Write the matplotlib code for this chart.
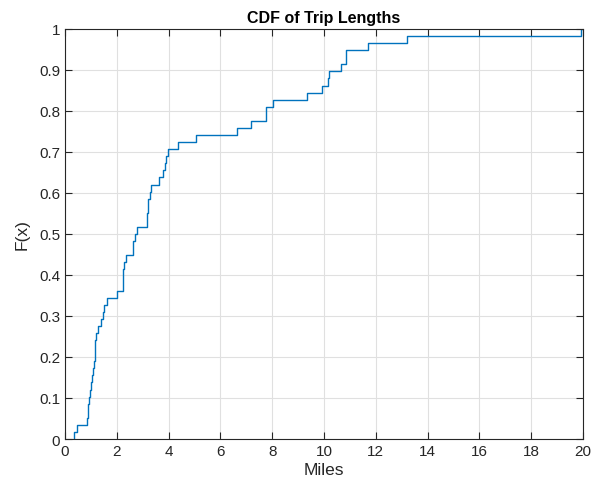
import numpy as np
import matplotlib
matplotlib.use("Agg")
import matplotlib.pyplot as plt

trip_miles = [0.35, 0.47, 0.85,
              0.9, 0.9, 0.94, 0.965, 1.0, 1.03, 1.07, 1.12, 1.15, 1.16, 1.17, 1.18,
              1.26, 1.39, 1.45, 1.52, 1.63, 2.0,
              2.23, 2.23, 2.23, 2.28, 2.36, 2.64, 2.64, 2.72, 2.79,
              3.15, 3.17, 3.2, 3.22, 3.28, 3.31, 3.64, 3.8, 3.86, 3.9, 3.99,
              4.37, 5.05, 6.65, 7.17, 7.75, 7.75, 8.04, 9.33, 9.91, 10.17, 10.2,
              10.64, 10.84, 10.84, 11.71, 13.19, 19.92]
x_ticks = list(range(0, 21, 2))
y_ticks = [0, 0.1, 0.2, 0.3, 0.4, 0.5, 0.6, 0.7, 0.8, 0.9, 1]
y_tick_labels = ["0", "0.1", "0.2", "0.3", "0.4", "0.5", "0.6", "0.7", "0.8", "0.9", "1"]

plt.rcParams['font.family'] = ['Liberation Sans', 'DejaVu Sans']

xs = np.sort(np.array(trip_miles))
n = len(xs)
ys = np.arange(1, n + 1) / n
px = np.concatenate([[xs[0]], xs, [20]])
py = np.concatenate([[0], ys, [1]])

fig = plt.figure(figsize=(6.03, 4.89), dpi=100)
ax = fig.add_axes([0.1078, 0.1002, 0.9668 - 0.1078, 0.9387 - 0.1002])
ax.plot(px, py, drawstyle='steps-post', color='#0072BD', lw=1.0)

ax.set_xlim(0, 20)
ax.set_ylim(0, 1)
ax.set_xticks(x_ticks)
ax.set_xticklabels([str(t) for t in x_ticks])
ax.set_yticks(y_ticks)
ax.set_yticklabels(y_tick_labels)
ax.grid(True, color='#e0e0e0', lw=0.8)
ax.set_axisbelow(True)
ax.tick_params(direction='in', length=5, top=True, right=True, labelsize=11,
               colors='#262626', width=0.8)
for s in ax.spines.values():
    s.set_color('#262626')
    s.set_linewidth(0.8)
ax.set_xlabel('Miles', fontsize=12.5, color='#262626', labelpad=3)
ax.set_ylabel('F(x)', fontsize=12.5, color='#262626', labelpad=7)
ax.set_title('CDF of Trip Lengths', fontsize=11.5, fontweight='bold', pad=5)

fig.savefig('out.png', dpi=100)
